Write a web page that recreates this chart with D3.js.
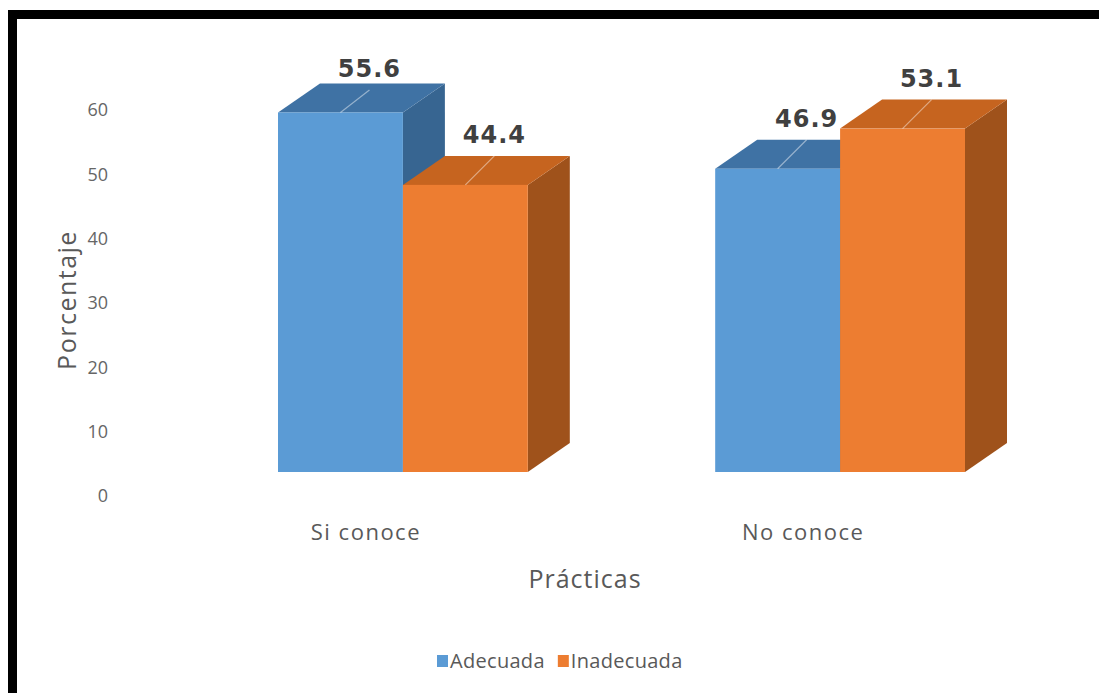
<!DOCTYPE html>
<html>
<head>
<meta charset="utf-8">
<script src="https://cdn.jsdelivr.net/npm/d3@7"></script>
<style>
  html, body { margin: 0; padding: 0; background: #fff; }
  svg { display: block; }
</style>
</head>
<body>
<script>
// Chart data
const categories = ["Si conoce", "No conoce"];
const seriesNames = ["Adecuada", "Inadecuada"];
const adecuada = [55.6, 46.9];
const inadecuada = [44.4, 53.1];
const yTicks = [0, 10, 20, 30, 40, 50, 60];

const W = 1099, H = 693;
const svg = d3.select("body").append("svg").attr("width", W).attr("height", H);

// Frame (top and left black bars)
svg.append("rect").attr("x", 8).attr("y", 10).attr("width", W - 8).attr("height", 9).attr("fill", "#000");
svg.append("rect").attr("x", 8).attr("y", 10).attr("width", 9).attr("height", H - 10).attr("fill", "#000");

// Colours per series: front, top, side
const palette = {
  Adecuada:   { front: "#5b9bd5", top: "#3f72a4", side: "#376591" },
  Inadecuada: { front: "#ed7d31", top: "#c6641f", side: "#9f521b" }
};

const textFont = "'Open Sans', sans-serif";

// Scales
const x0 = d3.scaleBand().domain(categories).range([278, 965]).paddingInner(0.4286).paddingOuter(0);
const x1 = d3.scaleBand().domain(seriesNames).range([0, x0.bandwidth()]);
const yBar = d3.scaleLinear().domain([0, 60]).range([472, 84]);   // front face of bars
const yAxis = d3.scaleLinear().domain([0, 60]).range([496, 110]); // value axis labels
const depth = { dx: 42, dy: -29 };

const rows = categories.map((c, i) => ({
  cat: c,
  values: [
    { name: "Adecuada", value: adecuada[i] },
    { name: "Inadecuada", value: inadecuada[i] }
  ]
}));

// Value axis labels (no line, no gridlines)
const axisG = svg.append("g").attr("transform", "translate(108,0)");
axisG.call(d3.axisLeft(yAxis).tickValues(yTicks).tickSize(0).tickPadding(0));
axisG.select(".domain").remove();
axisG.selectAll("text")
  .attr("fill", "#666")
  .style("font-family", textFont)
  .style("font-size", "18px");

// Bars as 3D boxes
const groups = svg.append("g").selectAll("g.cat").data(rows).join("g").attr("class", "cat")
  .attr("transform", d => `translate(${x0(d.cat)},0)`);

groups.each(function (row) {
  const g = d3.select(this);
  row.values.forEach(v => {
    const c = palette[v.name];
    const xl = x1(v.name), xr = xl + x1.bandwidth();
    const yt = yBar(v.value), yb = yBar(0);
    const { dx, dy } = depth;
    const box = g.append("g");
    // side face
    box.append("polygon")
      .attr("points", [[xr, yt], [xr + dx, yt + dy], [xr + dx, yb + dy], [xr, yb]].join(" "))
      .attr("fill", c.side);
    // top face
    box.append("polygon")
      .attr("points", [[xl, yt], [xl + dx, yt + dy], [xr + dx, yt + dy], [xr, yt]].join(" "))
      .attr("fill", c.top);
    // front face
    box.append("rect")
      .attr("x", xl).attr("y", yt).attr("width", xr - xl).attr("height", yb - yt)
      .attr("fill", c.front);
  });
});

// Data labels with leader lines
const labelFmt = d3.format(".1f");
groups.each(function (row) {
  const g = d3.select(this);
  row.values.forEach(v => {
    const xl = x1(v.name), bw = x1.bandwidth();
    const yt = yBar(v.value);
    const cx = xl + bw / 2;
    const lx = cx + 29;
    const ly = Math.max(yt - 42, 77);
    g.append("line")
      .attr("x1", cx).attr("y1", yt)
      .attr("x2", lx).attr("y2", ly + 13)
      .attr("stroke", "rgba(255,255,255,0.45)")
      .attr("stroke-width", 1.2);
    g.append("text")
      .attr("x", lx).attr("y", ly)
      .attr("text-anchor", "middle")
      .attr("fill", "#404040")
      .style("font-family", "'DejaVu Sans', sans-serif")
      .style("font-weight", "bold")
      .style("font-size", "24px")
      .style("letter-spacing", "1px")
      .text(labelFmt(v.value));
  });
});

// Category labels
svg.append("g").selectAll("text").data(categories).join("text")
  .attr("x", d => x0(d) + x0.bandwidth() / 2 - 37)
  .attr("y", 540)
  .attr("text-anchor", "middle")
  .attr("fill", "#595959")
  .style("font-family", textFont)
  .style("font-size", "22px")
  .style("letter-spacing", "1.5px")
  .text(d => d);

// Axis titles
svg.append("text")
  .attr("x", 585).attr("y", 588)
  .attr("text-anchor", "middle")
  .attr("fill", "#595959")
  .style("font-family", textFont)
  .style("font-size", "25px")
  .style("letter-spacing", "1px")
  .text("Prácticas");

svg.append("text")
  .attr("transform", "translate(76,300) rotate(-90)")
  .attr("text-anchor", "middle")
  .attr("fill", "#595959")
  .style("font-family", textFont)
  .style("font-size", "25px")
  .style("letter-spacing", "1.5px")
  .text("Porcentaje");

// Legend
const legend = svg.append("g").attr("transform", "translate(437,661)");
let lxPos = 0;
seriesNames.forEach(name => {
  const item = legend.append("g").attr("transform", `translate(${lxPos},0)`);
  item.append("rect").attr("x", 0).attr("y", -6).attr("width", 11).attr("height", 12)
    .attr("fill", palette[name].front);
  const t = item.append("text").attr("x", 13).attr("y", 7)
    .attr("fill", "#595959")
    .style("font-family", textFont)
    .style("font-size", "20px")
    .style("letter-spacing", "0.3px")
    .text(name);
  lxPos += 13 + t.node().getComputedTextLength() + 13;
});
</script>
</body>
</html>
